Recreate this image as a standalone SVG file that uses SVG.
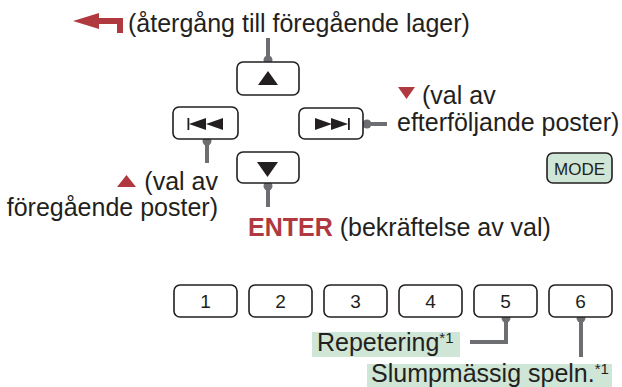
<svg xmlns="http://www.w3.org/2000/svg" width="622" height="387" viewBox="0 0 622 387">
<style>
.t{font-family:"Liberation Sans",Arial,sans-serif;font-size:25px;fill:#231f20}
.b{fill:#fff;stroke:#231f20;stroke-width:1.6}
.bg{fill:#cfe5d5;stroke:#231f20;stroke-width:1.6}
.d{font-family:"Liberation Sans",Arial,sans-serif;font-size:19px;fill:#231f20;text-anchor:middle}
.c{fill:none;stroke:#6d6e71;stroke-width:4}
.dot{fill:#6d6e71}
.red{fill:#b0393f}
.ic{fill:#231f20}
.sup{font-size:15px}
</style>
<rect width="622" height="387" fill="#fff"/>
<g id="back-label">
<polygon class="red" points="73,21 99,13 99,18 123,18 123,33 117,33 117,24 99,24 99,29"/>
<text class="t" x="128" y="32">(återgång till föregående lager)</text>
</g>
<g id="connectors">
<path class="c" d="M268,38V60"/><circle class="dot" cx="268" cy="60" r="4.5"/>
<path class="c" d="M207,141V163"/><circle class="dot" cx="207" cy="141" r="4.5"/>
<path class="c" d="M367,124H387"/><circle class="dot" cx="367" cy="124" r="4.5"/>
<path class="c" d="M268,186V207"/><circle class="dot" cx="268" cy="186" r="4.5"/>
<path class="c" d="M506,318V342H470"/><circle class="dot" cx="506" cy="318" r="4.5"/>
<path class="c" d="M581,318V357"/><circle class="dot" cx="581" cy="318" r="4.5"/>
</g>
<g id="btn-up">
<rect class="b" x="237" y="62" width="62" height="33" rx="6"/>
<polygon class="ic" points="268,71 278,85 258,85"/>
</g>
<g id="btn-prev">
<rect class="b" x="173" y="107" width="65" height="32" rx="6"/>
<rect class="ic" x="187.5" y="118" width="1.8" height="12"/>
<polygon class="ic" points="189,124 206,118 206,130"/>
<polygon class="ic" points="206,124 223,118 223,130"/>
</g>
<g id="btn-next">
<rect class="b" x="299" y="108" width="64" height="31" rx="6"/>
<polygon class="ic" points="332,124 315,118 315,130"/>
<polygon class="ic" points="348,124 331,118 331,130"/>
<rect class="ic" x="348" y="118" width="1.8" height="12"/>
</g>
<g id="btn-down">
<rect class="b" x="237" y="152" width="62" height="31" rx="6"/>
<polygon class="ic" points="257,162 278,162 267.5,177"/>
</g>
<g id="btn-mode">
<rect class="bg" x="547" y="153" width="65" height="30" rx="6"/>
<text class="d" x="579.5" y="174.5" style="font-size:17px">MODE</text>
</g>
<g id="label-prev">
<polygon class="red" points="117,187 136,187 126.5,175"/>
<text class="t" x="218" y="190" text-anchor="end">(val av</text>
<text class="t" x="218" y="216" text-anchor="end">föregående poster)</text>
</g>
<g id="label-next">
<polygon class="red" points="398,87 415,87 406.5,99"/>
<text class="t" x="422" y="104">(val av</text>
<text class="t" x="397" y="131">efterföljande poster)</text>
</g>
<g id="label-enter">
<text class="t" x="248" y="236"><tspan style="font-weight:bold;fill:#b0393f">ENTER</tspan> (bekräftelse av val)</text>
</g>
<g id="btn-1"><rect class="b" x="174" y="285" width="63" height="32" rx="6"/><text class="d" x="205.5" y="308">1</text></g>
<g id="btn-2"><rect class="b" x="249" y="285" width="63" height="32" rx="6"/><text class="d" x="280.5" y="308">2</text></g>
<g id="btn-3"><rect class="b" x="324" y="285" width="63" height="32" rx="6"/><text class="d" x="355.5" y="308">3</text></g>
<g id="btn-4"><rect class="b" x="399" y="285" width="63" height="32" rx="6"/><text class="d" x="430.5" y="308">4</text></g>
<g id="btn-5"><rect class="b" x="474" y="285" width="63" height="32" rx="6"/><text class="d" x="505.5" y="308">5</text></g>
<g id="btn-6"><rect class="b" x="549" y="285" width="63" height="32" rx="6"/><text class="d" x="580.5" y="308">6</text></g>
<g id="label-repeat">
<rect x="312" y="332" width="148" height="25" fill="#cfe5d5"/>
<text class="t" x="317" y="351">Repetering<tspan class="sup" dy="-8">*1</tspan></text>
</g>
<g id="label-shuffle">
<rect x="367" y="364" width="245" height="23" fill="#cfe5d5"/>
<text class="t" x="371" y="382">Slumpmässig speln.<tspan class="sup" dy="-8">*1</tspan></text>
</g>
</svg>
